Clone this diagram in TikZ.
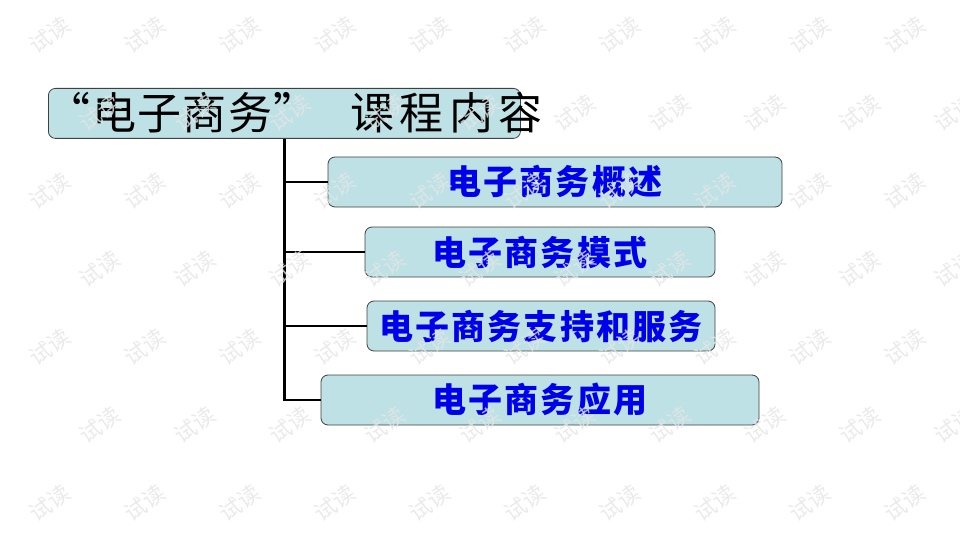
\documentclass[tikz,border=0pt]{standalone}
\usepackage{fontspec}
\newfontfamily\cjk{Noto Sans CJK SC}
\usetikzlibrary{positioning}
\definecolor{boxcyan}{RGB}{189,225,229}
\definecolor{textblue}{RGB}{0,0,235}

\begin{document}
\begin{tikzpicture}[
    x=1pt, y=-1pt,
    item/.style={draw=black!75, fill=boxcyan, rounded corners=7pt, line width=0.8pt,
        minimum height=50pt, inner sep=0pt,
        font=\cjk\bfseries\fontsize{34}{38}\selectfont\addfontfeature{LetterSpace=6},
        text=textblue},
    branch/.style={line width=2.2pt},
    wmark/.style={font=\cjk\fontsize{22}{24}\selectfont, text=black!10,
        opacity=0.8, rotate=35},
]
\useasboundingbox (0,0) rectangle (960,540);

% Title box (the text runs past its right edge)
\node[item, minimum width=472pt, anchor=north west] (title) at (48,88) {};
\node[anchor=west, inner sep=0pt, font=\cjk\fontsize{44}{48}\selectfont\addfontfeature{LetterSpace=3}]
    (titletext) at (46,113) {“\hspace{2pt}电子商务”\hspace{33pt}{\addfontfeature{LetterSpace=12}课程内容}};

% Items
\node[item, minimum width=454pt] (overview) at (555,182) {电子商务概述};
\node[item, minimum width=350pt] (models)   at (540,252) {电子商务模式};
\node[item, minimum width=348pt] (support)  at (541,326) {电子商务支持和服务};
\node[item, minimum width=438pt] (apps)     at (540,400) {电子商务应用};

% Tree lines
\draw[branch] (title.south) |- (apps.west);
\foreach \n in {overview, models, support}
    \draw[branch] (title.south |- \n.west) -- (\n.west);

% Watermark
\foreach \row in {0,...,6} {
    \pgfmathsetmacro\yy{35+78*\row}
    \pgfmathsetmacro\xoff{mod(\row,2)*50}
    \foreach \col in {0,...,9}
        \node[wmark] (wm-\row-\col) at ({50+\xoff+95*\col}, \yy) {试读};
}
\end{tikzpicture}
\end{document}
